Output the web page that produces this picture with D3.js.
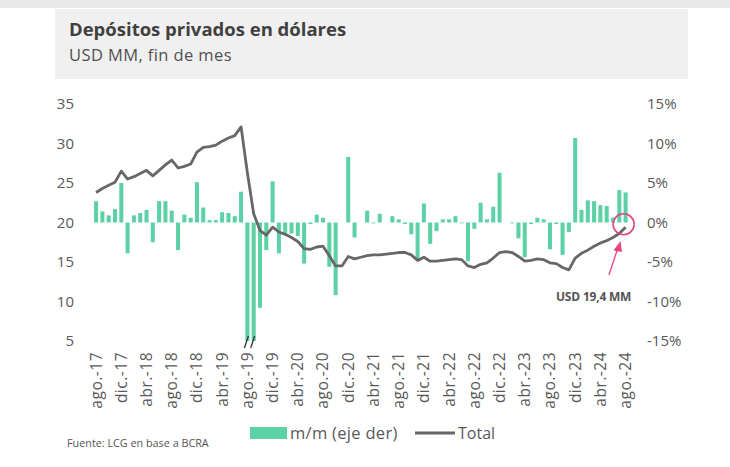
<!DOCTYPE html>
<html><head><meta charset="utf-8">
<script src="https://cdn.jsdelivr.net/npm/d3@7"></script>
<style>body{margin:0;background:#fff}svg{display:block;font-family:'Open Sans',Lato,sans-serif}</style>
</head><body>
<svg id="c" width="730" height="467"></svg>
<script>
// monthly categories ago-17 .. ago-24
const categories = d3.range(85).map(i => {
  const m = (7 + i) % 12, y = 17 + Math.floor((7 + i) / 12);
  return ["ene","feb","mar","abr","may","jun","jul","ago","sep","oct","nov","dic"][m] + ".-" + y;
});
const tickLabels = ["ago.-17","dic.-17","abr.-18","ago.-18","dic.-18","abr.-19","ago.-19","dic.-19","abr.-20","ago.-20","dic.-20","abr.-21","ago.-21","dic.-21","abr.-22","ago.-22","dic.-22","abr.-23","ago.-23","dic.-23","abr.-24","ago.-24"];
// m/m change, % (right axis)
const mom = [2.7,1.4,0.9,1.7,5.0,-3.9,0.9,1.2,1.6,-2.5,2.7,2.7,1.5,-3.5,1.0,0.6,5.1,1.9,0.3,0.3,1.3,1.2,0.8,3.9,
  -17,-19,-10.8,-3.5,5.2,-3.9,-1.4,-1.4,-1.7,-5.2,-0.2,1.0,0.6,-5.6,-9.2,0.0,8.3,-1.9,0.0,1.5,-0.1,1.1,0.0,0.8,
  0.4,-0.2,-1.5,-4.7,2.4,-2.7,-1.1,0.4,0.4,0.8,-0.1,-4.9,-0.8,2.5,0.4,2.0,6.3,0.0,-0.1,-2.0,-4.4,-0.2,0.6,0.4,
  -3.4,-0.2,-4.1,-1.2,10.7,1.6,2.8,2.7,2.2,2.1,0.6,4.1,3.8];
// Total deposits, USD MM (left axis)
const total = [23.8,24.3,24.7,25.1,26.5,25.5,25.8,26.2,26.6,25.9,26.6,27.3,27.9,26.9,27.1,27.4,28.9,29.5,29.6,29.8,30.3,30.7,31.0,32.1,
  26.3,21.1,19.0,18.4,19.4,18.8,18.5,18.1,17.6,16.7,16.6,16.9,17.0,15.8,14.5,14.5,15.7,15.4,15.6,15.8,15.9,15.9,16.0,16.1,
  16.2,16.2,15.9,15.2,15.6,15.1,15.1,15.2,15.3,15.4,15.3,14.5,14.3,14.7,14.9,15.5,16.2,16.3,16.2,15.7,15.1,15.2,15.4,15.3,
  14.9,14.8,14.3,14.0,15.5,16.1,16.5,17.0,17.4,17.7,18.1,18.6,19.4];
const leftTicks = [5,10,15,20,25,30,35];
const rightTicks = [-15,-10,-5,0,5,10,15];

const svg = d3.select("#c");
const teal = "#5cd1a6", gray = "#676767", pink = "#e4457f", txt = "#595959";

// top strip and title box
svg.append("rect").attr("x",0).attr("y",0).attr("width",730).attr("height",8).attr("fill","#e9e9e9");
svg.append("rect").attr("x",55).attr("y",9).attr("width",633).attr("height",70).attr("fill","#f0f0f0");
svg.append("text").attr("x",69).attr("y",36).attr("font-size",18.5).attr("font-weight","bold").attr("fill","#404040").text("Depósitos privados en dólares");
svg.append("text").attr("x",69).attr("y",61).attr("font-size",16.5).attr("letter-spacing",0.4).attr("fill","#505050").text("USD MM, fin de mes");

const x = d3.scaleBand().domain(categories).range([91.8, 629.9]).padding(0.36);
const yL = d3.scaleLinear().domain([5,35]).range([341,104]);
const yR = d3.scaleLinear().domain([-15,15]).range([341,104]).clamp(true);

// axes (labels only)
const axL = svg.append("g").attr("transform","translate(74,0)")
  .call(d3.axisLeft(yL).tickValues(leftTicks).tickSize(0).tickPadding(0));
const axR = svg.append("g").attr("transform","translate(647,0)")
  .call(d3.axisRight(yR).tickValues(rightTicks).tickSize(0).tickPadding(0).tickFormat(d => d + "%"));
const axX = svg.append("g").attr("transform","translate(0,352)")
  .call(d3.axisBottom(x).tickValues(tickLabels).tickSize(0).tickPadding(0));
[axL, axR, axX].forEach(g => { g.select(".domain").remove(); g.selectAll("text").attr("font-family","'Open Sans'").attr("font-size",15).attr("fill",txt); });
axX.selectAll("text").attr("font-size",15.5).attr("letter-spacing",0.5).attr("text-anchor","end").attr("dy","0.35em").attr("dx",0).attr("y",0).attr("x",0).attr("transform","rotate(-90)");

// bars
const bw = x.bandwidth();
svg.append("g").selectAll("rect").data(mom).join("rect")
  .attr("x",(d,i)=>x(categories[i]))
  .attr("width",bw)
  .attr("y",d=>Math.min(yR(d),yR(0)))
  .attr("height",d=>Math.abs(yR(d)-yR(0)))
  .attr("fill",teal);

// break marks on clipped bars
mom.forEach((d,i)=>{ if(d < -15){ const cx = x(categories[i]) + bw/2;
  svg.append("line").attr("x1",cx-3).attr("y1",348).attr("x2",cx+1).attr("y2",336).attr("stroke","#333").attr("stroke-width",1.3); }});

// line
const line = d3.line().x((d,i)=>x(categories[i])+bw/2).y(d=>yL(d)).curve(d3.curveLinear);
svg.append("path").datum(total).attr("d",line).attr("fill","none").attr("stroke",gray).attr("stroke-width",2.8).attr("stroke-linejoin","round");

// annotation
const lastX = x(categories[84]) + bw/2, lastY = yL(total[84]);
svg.append("circle").attr("cx",lastX-2).attr("cy",lastY-3).attr("r",10.5).attr("fill","none").attr("stroke",pink).attr("stroke-width",1.6);
svg.append("line").attr("x1",609).attr("y1",275).attr("x2",617.5).attr("y2",249).attr("stroke",pink).attr("stroke-width",1.3);
svg.append("path").attr("d","M620.5,241 L613.5,250.5 L622,252 Z").attr("fill",pink);
svg.append("text").attr("x",556).attr("y",301).attr("font-size",12).attr("font-weight","bold").attr("fill","#555").attr("letter-spacing",-0.2).text("USD 19,4 MM");

// legend
svg.append("rect").attr("x",250).attr("y",427).attr("width",37).attr("height",12).attr("fill",teal);
svg.append("text").attr("x",290).attr("y",439).attr("font-size",16.5).attr("letter-spacing",0.3).attr("fill",txt).text("m/m (eje der)");
svg.append("line").attr("x1",415).attr("x2",455).attr("y1",433).attr("y2",433).attr("stroke",gray).attr("stroke-width",2.8);
svg.append("text").attr("x",458).attr("y",439).attr("font-size",16).attr("fill",txt).text("Total");
svg.append("text").attr("x",67).attr("y",447).attr("font-size",10.8).attr("fill","#555").text("Fuente: LCG en base a BCRA");
</script>
</body></html>
